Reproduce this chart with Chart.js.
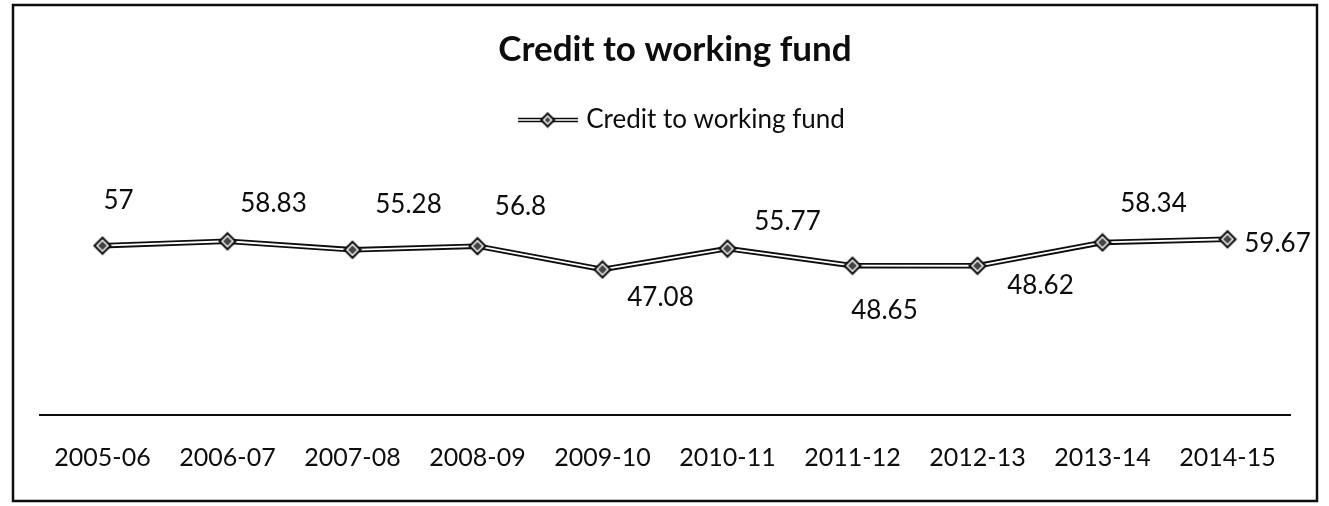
<!DOCTYPE html>
<html>
<head>
<meta charset="utf-8">
<title>Credit to working fund</title>
<script src="https://cdn.jsdelivr.net/npm/chart.js@4.4.1/dist/chart.umd.min.js"></script>
<style>
    html, body { margin: 0; padding: 0; background: #fff; }
</style>
</head>
<body>
<canvas id="creditChart" width="1329" height="506"></canvas>
<script>
const years = ['2005-06', '2006-07', '2007-08', '2008-09', '2009-10', '2010-11', '2011-12', '2012-13', '2013-14', '2014-15'];
const creditRatio = [57, 58.83, 55.28, 56.8, 47.08, 55.77, 48.65, 48.62, 58.34, 59.67];

// where each value label sits, relative to its point (dx, dy in px)
const labelOffsets = [[16, -45], [46, -38], [56, -45], [43, -40], [58, 28], [60, -27], [32, 45], [63, 20], [51, -39], [50, 4]];

const ink = '#0d0d0d';
const fontFamily = 'Lato, "Open Sans", sans-serif';

// diamond marker: black rim, white ring, dark core
const drawDiamond = (g, cx, cy, r, fill) => {
    g.beginPath();
    g.moveTo(cx, cy - r);
    g.lineTo(cx + r, cy);
    g.lineTo(cx, cy + r);
    g.lineTo(cx - r, cy);
    g.closePath();
    g.fillStyle = fill;
    g.fill();
};

const makeMarker = (size) => {
    const c = document.createElement('canvas');
    c.width = size;
    c.height = size;
    const g = c.getContext('2d');
    const m = size / 2;
    drawDiamond(g, m, m, m - 0.5, ink);
    drawDiamond(g, m, m, m - 3.5, '#fff');
    drawDiamond(g, m, m, m - 5.5, '#444');
    return c;
};

// legend symbol: double line with the marker in the middle
const makeLegendSymbol = () => {
    const c = document.createElement('canvas');
    c.width = 60;
    c.height = 18;
    const g = c.getContext('2d');
    g.strokeStyle = ink;
    g.lineWidth = 4.5;
    g.beginPath();
    g.moveTo(0, 9);
    g.lineTo(60, 9);
    g.stroke();
    g.strokeStyle = '#fff';
    g.lineWidth = 1.5;
    g.stroke();
    g.drawImage(makeMarker(17), 21, 0.5);
    return c;
};

const marker = makeMarker(20);
const legendSymbol = makeLegendSymbol();

const valueLabels = {
    id: 'valueLabels',
    afterDatasetsDraw(chart) {
        const { ctx } = chart;
        const meta = chart.getDatasetMeta(0);
        ctx.save();
        ctx.font = `26px ${fontFamily}`;
        ctx.fillStyle = ink;
        ctx.textAlign = 'center';
        ctx.textBaseline = 'middle';
        meta.data.forEach((pt, i) => {
            const [dx, dy] = labelOffsets[i];
            ctx.fillText(String(creditRatio[i]), pt.x + dx, pt.y + dy);
        });
        ctx.restore();
    }
};

// nudge title and legend a little right of the plot centre
const headerShift = {
    id: 'headerShift',
    afterLayout(chart) {
        chart.titleBlock.left += 10;
        chart.titleBlock.right += 10;
        chart.legend.left += 19;
        chart.legend.right += 19;
    }
};

const frame = {
    id: 'frame',
    afterDraw(chart) {
        const { ctx } = chart;
        ctx.save();
        ctx.strokeStyle = ink;
        ctx.lineWidth = 2.5;
        ctx.strokeRect(13, 5, 1304, 496);
        ctx.restore();
    }
};

new Chart(document.getElementById('creditChart'), {
    type: 'line',
    data: {
        labels: years,
        datasets: [
            {
                label: 'Credit to working fund',
                data: creditRatio,
                borderColor: '#fff',
                borderWidth: 1.8,
                pointStyle: marker,
                pointRadius: 9,
                tension: 0,
                order: 1,
            },
            {
                label: 'outline',
                data: creditRatio,
                borderColor: ink,
                borderWidth: 5.5,
                pointRadius: 0,
                tension: 0,
                order: 2,
            },
        ],
    },
    options: {
        responsive: false,
        animation: false,
        events: [],
        layout: {
            padding: { top: 5, left: 40, right: 39, bottom: 5 }
        },
        plugins: {
            title: {
                display: true,
                text: 'Credit to working fund',
                color: ink,
                font: { family: fontFamily, size: 35, weight: 'bold' },
                padding: { top: 24, bottom: 26 },
            },
            legend: {
                labels: {
                    color: ink,
                    font: { family: fontFamily, size: 26 },
                    usePointStyle: true,
                    pointStyleWidth: 50,
                    padding: 10,
                    filter: item => item.datasetIndex === 0,
                    generateLabels: chart => Chart.defaults.plugins.legend.labels.generateLabels(chart)
                        .map(item => ({ ...item, pointStyle: legendSymbol })),
                },
            },
            tooltip: { enabled: false },
        },
        scales: {
            x: {
                offset: true,
                grid: { display: false, drawTicks: false },
                border: { display: true, color: ink, width: 2 },
                ticks: {
                    color: ink,
                    font: { family: fontFamily, size: 25 },
                    padding: 28,
                    maxRotation: 0,
                    autoSkip: false,
                },
            },
            y: {
                display: false,
                min: -13.6,
                max: 99.8,
            },
        },
    },
    plugins: [valueLabels, headerShift, frame],
});
</script>
</body>
</html>
